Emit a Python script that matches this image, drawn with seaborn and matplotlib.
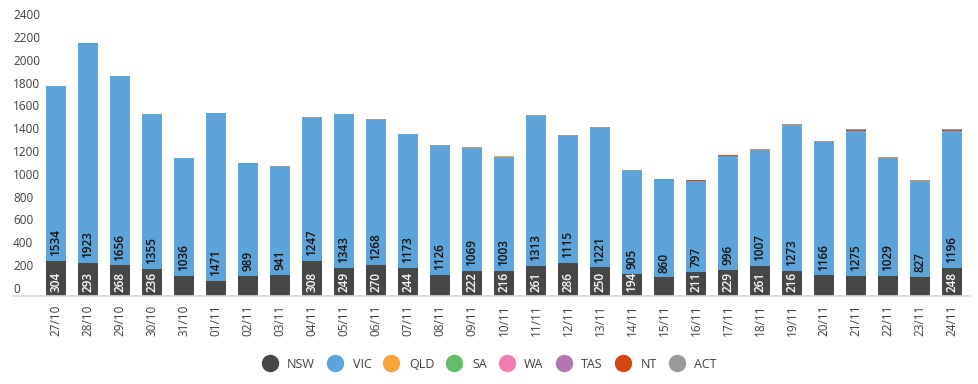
import seaborn as sns
import pandas as pd
import matplotlib.pyplot as plt
from matplotlib.lines import Line2D

# data
days = ['27/10', '28/10', '29/10', '30/10', '31/10', '01/11', '02/11', '03/11', '04/11', '05/11',
        '06/11', '07/11', '08/11', '09/11', '10/11', '11/11', '12/11', '13/11', '14/11', '15/11',
        '16/11', '17/11', '18/11', '19/11', '20/11', '21/11', '22/11', '23/11', '24/11']
nsw = [304, 293, 268, 236, 177, 135, 173, 185, 308, 249, 270, 244, 186, 222, 216, 261, 286, 250,
       194, 163, 211, 229, 261, 216, 180, 173, 173, 168, 248]
vic = [1534, 1923, 1656, 1355, 1036, 1471, 989, 941, 1247, 1343, 1268, 1173, 1126, 1069, 1003,
       1313, 1115, 1221, 905, 860, 797, 996, 1007, 1273, 1166, 1275, 1029, 827, 1196]
qld = [0] * 14 + [5] + [0] * 14
sa = [0] * 29
wa = [0] * 29
tas = [0] * 29
nt = [0] * 20 + [6, 6, 0, 0, 0, 6, 0, 6, 9]
act = [0, 0, 0, 0, 0, 0, 4, 12, 12, 5, 14, 4, 14, 12, 6, 8, 12, 6, 3, 2,
       6, 6, 18, 14, 13, 12, 17, 12, 6]
nsw_shown = [v if v >= 190 else None for v in nsw]

states = ['NSW', 'VIC', 'QLD', 'SA', 'WA', 'TAS', 'NT', 'ACT']
colors = ['#474747', '#5ca4da', '#f9a33c', '#61bd69', '#f07cb0', '#b276b2', '#d4460f', '#9a9a9a']

df = pd.DataFrame({'day': days, 'NSW': nsw, 'VIC': vic, 'QLD': qld, 'SA': sa, 'WA': wa,
                   'TAS': tas, 'NT': nt, 'ACT': act})
cum = df[states].cumsum(axis=1)

sns.set_style('white')
plt.rcParams['font.family'] = ['Open Sans', 'DejaVu Sans']
txt = '#404040'
fs = 8.5

fig = plt.figure(figsize=(9.79, 3.84), dpi=100)
ax = fig.add_axes([13 / 979, 1 - 296 / 384, 957 / 979, 274 / 384])

# stacked bars: draw the cumulative totals from the top layer down
for st, c in reversed(list(zip(states, colors))):
    sns.barplot(x=df['day'], y=cum[st], color=c, width=0.6, saturation=1,
                errorbar=None, linewidth=0, ax=ax)

# value labels inside the base of each segment
for i in range(len(days)):
    ax.annotate(str(vic[i]), (i, nsw[i]), xytext=(0, 3.5), textcoords='offset points',
                rotation=90, ha='center', va='bottom', fontsize=fs,
                fontweight='semibold', color='#111111')
    if nsw_shown[i] is not None:
        ax.annotate(str(nsw_shown[i]), (i, 0), xytext=(0, 3), textcoords='offset points',
                    rotation=90, ha='center', va='bottom', fontsize=fs,
                    fontweight='semibold', color='white')

ax.set_xlim(-1.344, 28.56)
ax.set_ylim(0, 2400)
ax.set_yticks(range(0, 2401, 200))
ax.set_xlabel('')
ax.set_ylabel('')
ax.tick_params(axis='y', length=0, pad=0, labelsize=8.5, labelcolor=txt)
ax.tick_params(axis='x', length=0, pad=6, labelsize=8.5, labelcolor=txt, rotation=90)
for lab in ax.get_yticklabels():
    lab.set_horizontalalignment('left')
    lab.set_verticalalignment('bottom')

sns.despine(ax=ax, left=True)
ax.spines['bottom'].set_color('#d9d9d9')
ax.spines['bottom'].set_linewidth(1.2)

handles = [Line2D([], [], marker='o', linestyle='', markersize=11.5, color=c) for c in colors]
fig.legend(handles, states, loc='center', bbox_to_anchor=(0.5, 20 / 384), ncol=8,
           frameon=False, handlelength=1.2, handletextpad=0.8, columnspacing=1.0,
           fontsize=9, labelcolor=txt)

plt.savefig('out.png', dpi=100)
